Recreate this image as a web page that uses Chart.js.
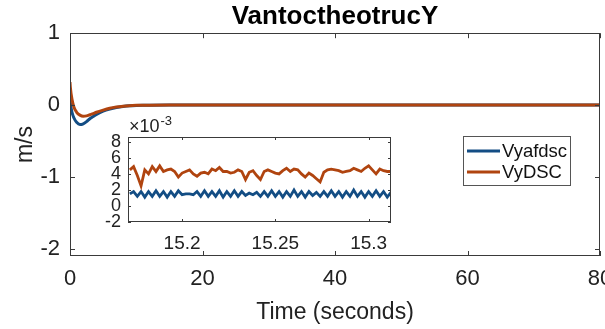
<!DOCTYPE html>
<html>
<head>
<meta charset="utf-8">
<script src="https://cdn.jsdelivr.net/npm/chart.js@4.4.0/dist/chart.umd.min.js"></script>
<style>
  html, body { margin: 0; padding: 0; background: #fff; overflow: hidden; width: 605px; height: 329px; }
  #wrap { position: relative; width: 605px; height: 329px; }
  #mainChart { position: absolute; left: 0; top: 0; }
  #insetChart { position: absolute; left: 0; top: 0; }
</style>
</head>
<body>
<div id="wrap">
  <canvas id="mainChart" width="625" height="329"></canvas>
  <canvas id="insetChart" width="605" height="329"></canvas>
</div>
<script>
// main plot
const mainTime = [0, 0.05, 0.3, 0.6, 1, 1.5, 2, 2.5, 3, 3.5, 4, 5, 6, 7, 8, 9, 10, 11, 12, 15, 20, 30, 40, 50, 60, 70, 80];
const vyAfdsc  = [0.08, 0.03, -0.1, -0.18, -0.24, -0.27, -0.26, -0.23, -0.19, -0.16, -0.13, -0.085, -0.055, -0.033, -0.019, -0.01, -0.005, -0.002, -0.001, 0, 0, 0, 0, 0, 0, 0, 0];
const vyDsc    = [0.32, 0.25, 0.08, -0.03, -0.1, -0.14, -0.155, -0.15, -0.135, -0.12, -0.1, -0.07, -0.045, -0.028, -0.016, -0.008, -0.004, -0.002, -0.001, 0, 0, 0, 0, 0, 0, 0, 0];
const mainXTicks = [0, 20, 40, 60, 80];
const mainYTicks = [-2, -1, 0, 1];

// zoomed inset (values x 1e-3)
const insetTime = [
  15.172, 15.174, 15.176, 15.178, 15.18, 15.182, 15.184, 15.186, 15.188, 15.19,
  15.192, 15.194, 15.196, 15.198, 15.2, 15.202, 15.204, 15.206, 15.208, 15.21,
  15.212, 15.214, 15.216, 15.218, 15.22, 15.222, 15.224, 15.226, 15.228, 15.23,
  15.232, 15.234, 15.236, 15.238, 15.24, 15.242, 15.244, 15.246, 15.248, 15.25,
  15.252, 15.254, 15.256, 15.258, 15.26, 15.262, 15.264, 15.266, 15.268, 15.27,
  15.272, 15.274, 15.276, 15.278, 15.28, 15.282, 15.284, 15.286, 15.288, 15.29,
  15.292, 15.294, 15.296, 15.298, 15.3, 15.302, 15.304, 15.306, 15.308, 15.31,
  15.312
];
const insetAfdsc = [
  1.5, 1.8, 1.2, 1.8, 1.1, 1.8, 1.2, 1.9, 1.2, 1.8,
  1.1, 1.8, 1.2, 1.9, 1.4, 1.5, 1.5, 1.4, 1.8, 1.2,
  1.9, 1.2, 1.8, 1.2, 1.9, 1.1, 1.8, 1.2, 1.9, 1.2,
  1.8, 1.3, 1.6, 1.4, 1.7, 1.2, 1.8, 1.2, 1.9, 1.2,
  1.8, 1.1, 1.8, 1.2, 2.0, 1.2, 1.8, 1.1, 1.8, 1.3,
  1.7, 1.2, 1.8, 1.2, 1.9, 1.2, 1.8, 1.1, 1.8, 1.2,
  2.0, 1.2, 1.8, 1.1, 1.8, 1.2, 1.9, 1.2, 1.8, 1.1,
  1.7
];
const insetDsc = [
  4.5, 4.9, 3.8, 2.5, 4.5, 4.0, 4.9, 4.3, 5.0, 4.3,
  4.5, 4.6, 4.3, 3.6, 4.1, 4.3, 4.5, 4.0, 3.7, 4.1,
  4.2, 4.0, 4.6, 4.4, 4.8, 4.3, 4.3, 4.1, 4.2, 4.5,
  4.3, 3.3, 4.2, 4.4, 3.8, 3.3, 4.3, 4.5, 4.3, 4.1,
  4.0, 4.4, 4.7, 4.3, 4.6, 4.5, 4.0, 3.6, 4.1, 3.8,
  3.4, 3.0, 4.2, 4.5, 4.6, 4.5, 4.4, 4.2, 4.3, 4.4,
  4.7, 4.5, 4.3, 4.7, 5.0, 4.5, 4.0, 4.6, 4.4, 4.3,
  4.3
];
const insetXTicks = [15.2, 15.25, 15.3];
const insetYTicks = [-2, 0, 2, 4, 6, 8];

const seriesNames = ['Vyafdsc', 'VyDSC'];
const blue = '#134d84';
const orange = '#b0440f';
const FONT = '"Liberation Sans", Arial, sans-serif';

function pts(xs, ys) { return xs.map((x, i) => ({ x: x, y: ys[i] })); }
function setTicks(list) { return s => { s.ticks = list.map(v => ({ value: v })); }; }

// axes box with inward tick marks, MATLAB style
const boxPlugin = {
  id: 'box',
  beforeDraw(chart, args, opts) {
    if (!opts.fill) return;
    const a = chart.chartArea, ctx = chart.ctx;
    ctx.save();
    ctx.fillStyle = '#fff';
    ctx.fillRect(a.left, a.top, a.right - a.left, a.bottom - a.top);
    ctx.restore();
  },
  afterDraw(chart, args, opts) {
    const { ctx, chartArea: a, scales } = chart;
    const len = opts.tick || 5;
    ctx.save();
    ctx.strokeStyle = opts.color || '#333';
    ctx.lineWidth = 1;
    ctx.beginPath();
    scales.x.ticks.forEach(t => {
      const px = Math.round(scales.x.getPixelForValue(t.value)) + 0.5;
      ctx.moveTo(px, a.bottom); ctx.lineTo(px, a.bottom - len);
      ctx.moveTo(px, a.top); ctx.lineTo(px, a.top + len);
    });
    scales.y.ticks.forEach(t => {
      const py = Math.round(scales.y.getPixelForValue(t.value)) + 0.5;
      ctx.moveTo(a.left, py); ctx.lineTo(a.left + len, py);
      ctx.moveTo(a.right, py); ctx.lineTo(a.right - len, py);
    });
    ctx.stroke();
    ctx.strokeRect(Math.round(a.left) + 0.5, Math.round(a.top) + 0.5,
      Math.round(a.right - a.left) - 1, Math.round(a.bottom - a.top) - 1);
    ctx.restore();
  }
};

// legend box inside the axes
const boxLegend = {
  id: 'boxLegend',
  afterDraw(chart, args, opts) {
    const ctx = chart.ctx;
    const { x, y, w, h } = opts;
    ctx.save();
    ctx.fillStyle = '#fff';
    ctx.fillRect(x, y, w, h);
    ctx.strokeStyle = '#555';
    ctx.lineWidth = 1;
    ctx.strokeRect(x + 0.5, y + 0.5, w, h);
    ctx.font = '18.5px ' + FONT;
    ctx.textBaseline = 'middle';
    ctx.fillStyle = '#111';
    chart.data.datasets.forEach((ds, i) => {
      const ly = y + 15 + i * 21;
      ctx.strokeStyle = ds.borderColor;
      ctx.lineWidth = 3;
      ctx.beginPath();
      ctx.moveTo(x + 4, ly); ctx.lineTo(x + 37, ly);
      ctx.stroke();
      ctx.fillText(ds.label, x + 39, ly + 1);
    });
    ctx.restore();
  }
};

// "x10^-3" exponent label above inset
const expLabel = {
  id: 'expLabel',
  afterDraw(chart) {
    const ctx = chart.ctx, a = chart.chartArea;
    ctx.save();
    ctx.fillStyle = '#222';
    ctx.textBaseline = 'alphabetic';
    ctx.font = '18px ' + FONT;
    ctx.fillText('\u00d710', a.left + 1, a.top - 5);
    const w = ctx.measureText('\u00d710').width;
    ctx.font = '13px ' + FONT;
    ctx.fillText('-3', a.left + 2 + w, a.top - 12);
    ctx.restore();
  }
};

new Chart(document.getElementById('mainChart'), {
  type: 'line',
  data: {
    datasets: [
      { label: seriesNames[0], data: pts(mainTime, vyAfdsc), borderColor: blue, backgroundColor: blue, borderWidth: 3, order: 1 },
      { label: seriesNames[1], data: pts(mainTime, vyDsc), borderColor: orange, backgroundColor: orange, borderWidth: 3, order: 0 }
    ]
  },
  options: {
    responsive: false,
    animation: false,
    parsing: false,
    elements: { point: { radius: 0 }, line: { cubicInterpolationMode: 'monotone' } },
    layout: { padding: { left: 0, right: 25, top: 0, bottom: 0 } },
    plugins: {
      legend: { display: false },
      tooltip: { enabled: false },
      title: {
        display: true, text: 'VantoctheotrucY', fullSize: false, color: '#000',
        font: { family: FONT, size: 26, weight: 'bold', lineHeight: 1.2 },
        padding: { top: 1, bottom: 1 }
      },
      box: { color: '#3a3a3a', tick: 5 },
      boxLegend: { x: 463, y: 136, w: 107, h: 49 }
    },
    scales: {
      x: {
        type: 'linear', min: 0, max: 80,
        afterBuildTicks: setTicks(mainXTicks),
        afterFit: s => { s.height = 73; },
        grid: { display: false, drawTicks: false },
        border: { display: false },
        ticks: { color: '#222', padding: 10, maxRotation: 0, font: { family: FONT, size: 22 } },
        title: { display: true, text: 'Time (seconds)', color: '#222', font: { family: FONT, size: 23 }, padding: { top: 0, bottom: 3 } }
      },
      y: {
        type: 'linear', min: -2.1, max: 1,
        afterBuildTicks: setTicks(mainYTicks),
        afterFit: s => { s.width = 70; },
        grid: { display: false, drawTicks: false },
        border: { display: false },
        ticks: { color: '#222', padding: 10, font: { family: FONT, size: 22 } },
        title: { display: true, text: 'm/s', color: '#222', font: { family: FONT, size: 23 }, padding: { top: 12, bottom: 0 } }
      }
    }
  },
  plugins: [boxPlugin, boxLegend]
});

new Chart(document.getElementById('insetChart'), {
  type: 'line',
  data: {
    datasets: [
      { label: seriesNames[0], data: pts(insetTime, insetAfdsc), borderColor: blue, borderWidth: 2.8, order: 1 },
      { label: seriesNames[1], data: pts(insetTime, insetDsc), borderColor: orange, borderWidth: 2.8, order: 0 }
    ]
  },
  options: {
    responsive: false,
    animation: false,
    parsing: false,
    elements: { point: { radius: 0 }, line: { tension: 0 } },
    layout: { padding: { left: 100, right: 214, top: 137, bottom: 0 } },
    plugins: {
      legend: { display: false },
      tooltip: { enabled: false },
      box: { color: '#3a3a3a', tick: 3, fill: true }
    },
    scales: {
      x: {
        type: 'linear', min: 15.171, max: 15.312,
        afterBuildTicks: setTicks(insetXTicks),
        afterFit: s => { s.height = 107; },
        grid: { display: false, drawTicks: false },
        border: { display: false },
        ticks: { color: '#222', padding: 10, maxRotation: 0, autoSkip: false, callback: v => String(v), font: { family: FONT, size: 19 } }
      },
      y: {
        type: 'linear', min: -2, max: 8.6,
        afterBuildTicks: setTicks(insetYTicks),
        afterFit: s => { s.width = 28; },
        grid: { display: false, drawTicks: false },
        border: { display: false },
        ticks: { color: '#222', padding: 7, autoSkip: false, font: { family: FONT, size: 18, lineHeight: 1 } }
      }
    }
  },
  plugins: [boxPlugin, expLabel]
});
</script>
</body>
</html>
